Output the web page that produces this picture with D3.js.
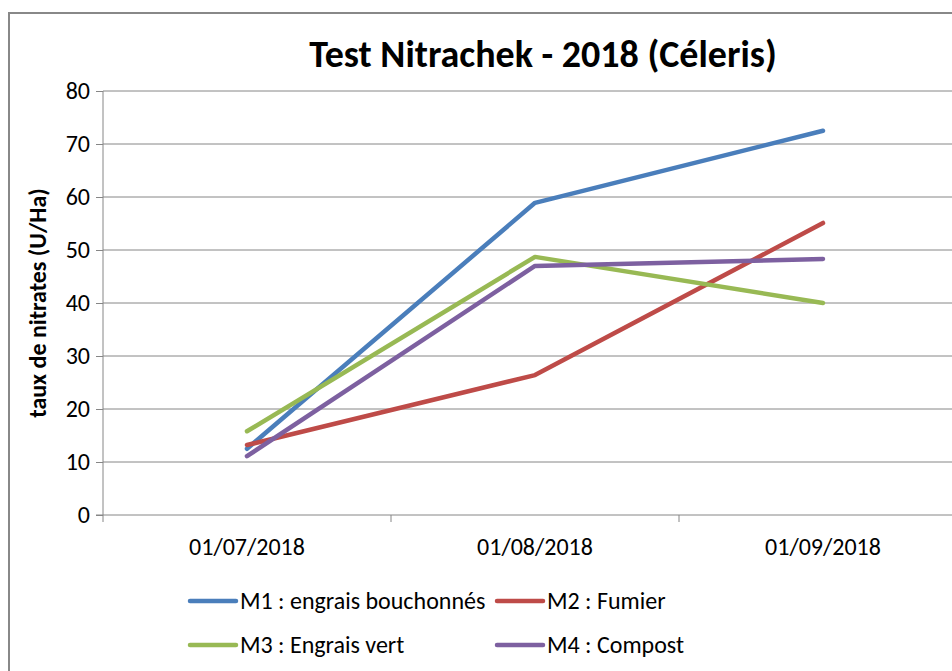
<!DOCTYPE html>
<html>
<head>
<meta charset="utf-8">
<script src="https://cdn.jsdelivr.net/npm/d3@7"></script>
<style>
  body { margin: 0; background: #fff; }
  svg { display: block; font-family: Carlito, Calibri, "Open Sans", sans-serif; }
</style>
</head>
<body>
<div id="chart"></div>
<script>
var dates = ["01/07/2018", "01/08/2018", "01/09/2018"];
var yTicks = [0, 10, 20, 30, 40, 50, 60, 70, 80];

var m1 = [12.5, 58.9, 72.5];
var m2 = [13.2, 26.4, 55.1];
var m3 = [15.8, 48.7, 40.0];
var m4 = [11.1, 47.0, 48.3];

var seriesNames = ["M1 : engrais bouchonnés", "M2 : Fumier", "M3 : Engrais vert", "M4 : Compost"];
var seriesColors = ["#4a7ebb", "#be4b48", "#98b954", "#7d60a0"];

var width = 952, height = 671;
var plot = { left: 103, right: 967, top: 91, bottom: 515 };

var svg = d3.select("#chart").append("svg")
    .attr("width", width)
    .attr("height", height);

// chart area border
svg.append("path")
    .attr("d", "M9,671 V13 H952")
    .attr("fill", "none")
    .attr("stroke", "#888")
    .attr("stroke-width", 2);

var x = d3.scaleBand()
    .domain(dates)
    .range([plot.left, plot.right]);

var y = d3.scaleLinear()
    .domain([0, 80])
    .range([plot.bottom, plot.top]);

// gridlines
svg.append("g")
    .selectAll("line")
    .data(yTicks.slice(1))
    .join("line")
    .attr("x1", plot.left)
    .attr("x2", plot.right)
    .attr("y1", d => y(d))
    .attr("y2", d => y(d))
    .attr("stroke", "#868686")
    .attr("stroke-width", 1);

// y axis
var yAxis = svg.append("g")
    .attr("transform", "translate(" + plot.left + ",0)")
    .call(d3.axisLeft(y).tickValues(yTicks).tickSize(7).tickPadding(6))
    .attr("font-family", null)
    .attr("font-size", 24);
yAxis.selectAll("line, path").attr("stroke", "#868686");
yAxis.selectAll("text").attr("fill", "#000");
yAxis.select(".domain").attr("d", "M0," + plot.top + "V" + plot.bottom);

// x axis
var xAxisG = svg.append("g");
xAxisG.append("line")
    .attr("x1", plot.left - 7).attr("x2", plot.right)
    .attr("y1", plot.bottom).attr("y2", plot.bottom)
    .attr("stroke", "#868686");
xAxisG.selectAll(".tick")
    .data(dates.concat(["end"]))
    .join("line")
    .attr("x1", (d, i) => i < dates.length ? x(d) : plot.right)
    .attr("x2", (d, i) => i < dates.length ? x(d) : plot.right)
    .attr("y1", plot.bottom)
    .attr("y2", plot.bottom + 7)
    .attr("stroke", "#868686");
xAxisG.selectAll("text")
    .data(dates)
    .join("text")
    .attr("x", d => x(d) + x.bandwidth() / 2)
    .attr("y", plot.bottom + 40)
    .attr("text-anchor", "middle")
    .attr("font-size", 24)
    .text(d => d);

// y title
svg.append("text")
    .attr("transform", "translate(46," + ((plot.top + plot.bottom) / 2) + ") rotate(-90)")
    .attr("text-anchor", "middle")
    .attr("font-size", 24)
    .attr("font-weight", "bold")
    .text("taux de nitrates (U/Ha)");

// title
svg.append("text")
    .attr("x", 543)
    .attr("y", 67)
    .attr("text-anchor", "middle")
    .attr("font-size", 38)
    .attr("font-weight", "bold")
    .text("Test Nitrachek - 2018 (Céleris)");

// lines
var line = d3.line()
    .x((d, i) => x(dates[i]) + x.bandwidth() / 2)
    .y(d => y(d));

var allSeries = [m1, m2, m3, m4];
svg.append("g")
    .selectAll("path")
    .data(allSeries)
    .join("path")
    .attr("d", d => line(d))
    .attr("fill", "none")
    .attr("stroke", (d, i) => seriesColors[i])
    .attr("stroke-width", 4.5)
    .attr("stroke-linejoin", "round")
    .attr("stroke-linecap", "round");

// legend
var legendPos = [[190, 601], [497, 601], [190, 645], [497, 645]];
var legend = svg.append("g")
    .selectAll("g")
    .data(seriesNames)
    .join("g")
    .attr("transform", (d, i) => "translate(" + legendPos[i][0] + "," + legendPos[i][1] + ")");
legend.append("line")
    .attr("x1", 0).attr("x2", 46)
    .attr("stroke", (d, i) => seriesColors[i])
    .attr("stroke-width", 4.5)
    .attr("stroke-linecap", "round");
legend.append("text")
    .attr("x", 50)
    .attr("y", 8)
    .attr("font-size", 24)
    .text(d => d);
</script>
</body>
</html>
